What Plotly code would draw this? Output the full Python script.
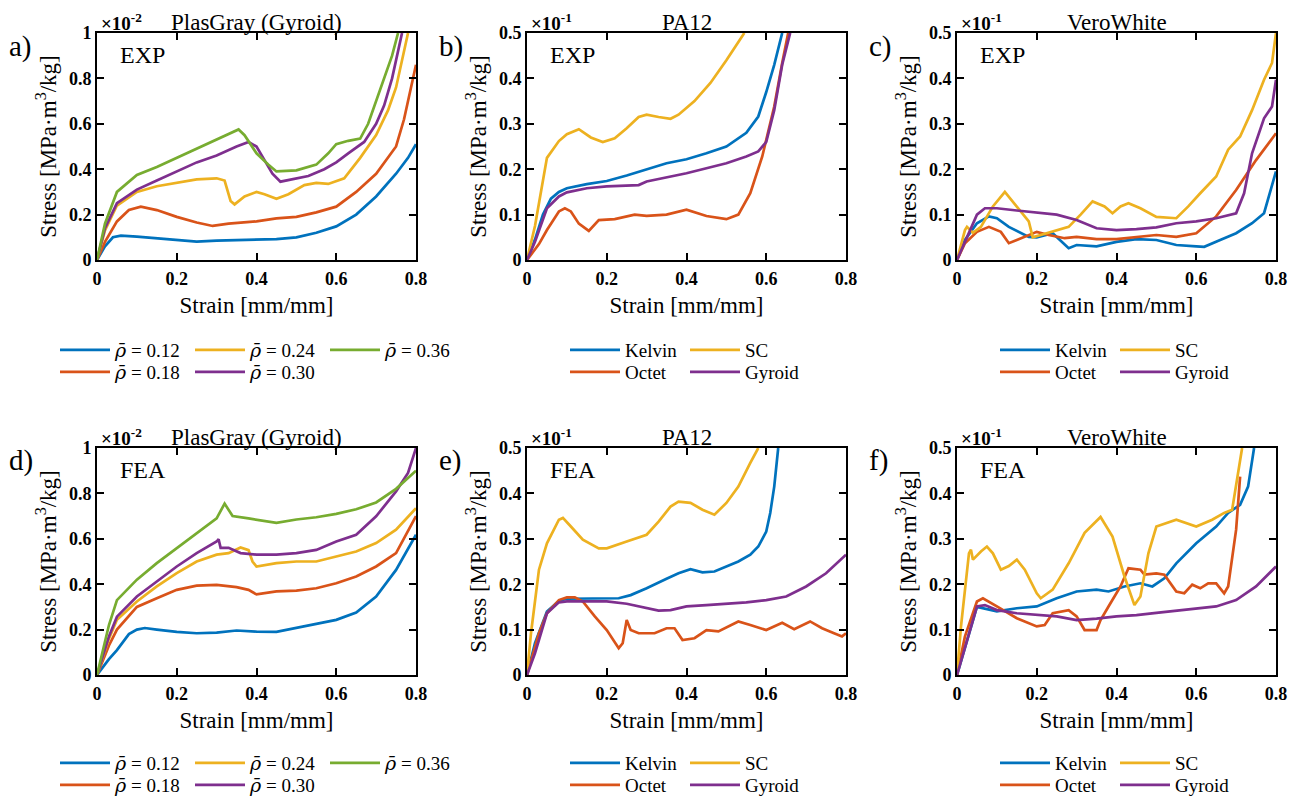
import plotly.graph_objects as go

# The page body adds an 8 px margin; the figure is placed at (8, 8).
OFF = 8
W, H = 1299 - OFF, 798 - OFF
SERIF = "Liberation Serif, Times New Roman, Times, Nimbus Roman, DejaVu Serif, serif"
BLUE, RED, YELLOW, PURPLE, GREEN = "#0072BD", "#D95319", "#EDB120", "#7E2F8E", "#77AC30"

# ---------------- Panel a: PlasGray (Gyroid) EXP  (x10^-2) ----------------
A_X_012 = [0, 0.02, 0.04, 0.06, 0.1, 0.15, 0.2, 0.25, 0.3, 0.35, 0.4, 0.45, 0.5, 0.55, 0.6, 0.65, 0.7, 0.75, 0.78, 0.8]
A_Y_012 = [0, 0.06, 0.1, 0.107, 0.103, 0.095, 0.086, 0.081, 0.085, 0.088, 0.09, 0.092, 0.1, 0.12, 0.148, 0.2, 0.28, 0.38, 0.45, 0.51]
A_X_018 = [0, 0.02, 0.05, 0.08, 0.11, 0.15, 0.2, 0.25, 0.29, 0.33, 0.4, 0.45, 0.5, 0.55, 0.6, 0.65, 0.7, 0.75, 0.77, 0.8]
A_Y_018 = [0, 0.08, 0.17, 0.22, 0.235, 0.22, 0.19, 0.165, 0.15, 0.16, 0.17, 0.183, 0.19, 0.21, 0.235, 0.3, 0.38, 0.5, 0.62, 0.86]
A_X_024 = [0, 0.02, 0.05, 0.1, 0.15, 0.2, 0.25, 0.3, 0.32, 0.335, 0.345, 0.37, 0.4, 0.42, 0.45, 0.48, 0.52, 0.55, 0.58, 0.62, 0.66, 0.7, 0.73, 0.75, 0.78]
A_Y_024 = [0, 0.13, 0.24, 0.3, 0.325, 0.34, 0.355, 0.36, 0.35, 0.26, 0.245, 0.28, 0.3, 0.29, 0.27, 0.29, 0.33, 0.34, 0.335, 0.36, 0.45, 0.55, 0.66, 0.76, 1.0]
A_X_030 = [0, 0.02, 0.05, 0.1, 0.15, 0.2, 0.25, 0.3, 0.35, 0.38, 0.4, 0.42, 0.44, 0.46, 0.5, 0.53, 0.57, 0.6, 0.63, 0.67, 0.7, 0.72, 0.74, 0.765]
A_Y_030 = [0, 0.14, 0.25, 0.31, 0.35, 0.39, 0.43, 0.46, 0.5, 0.52, 0.5, 0.44, 0.38, 0.345, 0.36, 0.37, 0.4, 0.43, 0.47, 0.52, 0.6, 0.68, 0.8, 1.0]
A_X_036 = [0, 0.02, 0.05, 0.1, 0.15, 0.2, 0.25, 0.3, 0.34, 0.355, 0.37, 0.4, 0.43, 0.45, 0.5, 0.55, 0.58, 0.6, 0.63, 0.66, 0.68, 0.71, 0.74, 0.755]
A_Y_036 = [0, 0.16, 0.3, 0.375, 0.41, 0.45, 0.49, 0.53, 0.565, 0.575, 0.55, 0.47, 0.42, 0.39, 0.395, 0.42, 0.47, 0.51, 0.525, 0.535, 0.6, 0.75, 0.9, 1.0]

# ---------------- Panel b: PA12 EXP  (x10^-1) ----------------
B_X_KELVIN = [0, 0.02, 0.04, 0.06, 0.08, 0.1, 0.15, 0.2, 0.25, 0.3, 0.35, 0.4, 0.45, 0.5, 0.55, 0.58, 0.6, 0.62, 0.64]
B_Y_KELVIN = [0, 0.045, 0.1, 0.135, 0.15, 0.158, 0.167, 0.174, 0.186, 0.199, 0.213, 0.222, 0.235, 0.25, 0.28, 0.316, 0.37, 0.43, 0.5]
B_X_OCTET = [0, 0.03, 0.05, 0.08, 0.095, 0.11, 0.13, 0.155, 0.18, 0.22, 0.27, 0.3, 0.35, 0.4, 0.45, 0.5, 0.53, 0.56, 0.59, 0.62, 0.64, 0.655]
B_Y_OCTET = [0, 0.035, 0.066, 0.107, 0.114, 0.107, 0.08, 0.064, 0.088, 0.09, 0.1, 0.097, 0.1, 0.111, 0.097, 0.09, 0.1, 0.147, 0.228, 0.338, 0.434, 0.5]
B_X_SC = [0, 0.02, 0.05, 0.08, 0.1, 0.13, 0.16, 0.19, 0.22, 0.25, 0.28, 0.3, 0.33, 0.36, 0.38, 0.42, 0.46, 0.5, 0.545]
B_Y_SC = [0, 0.075, 0.225, 0.262, 0.277, 0.288, 0.27, 0.26, 0.268, 0.29, 0.315, 0.32, 0.315, 0.311, 0.32, 0.35, 0.39, 0.44, 0.5]
B_X_GYROID = [0, 0.02, 0.05, 0.08, 0.1, 0.15, 0.2, 0.25, 0.28, 0.3, 0.35, 0.4, 0.45, 0.5, 0.55, 0.58, 0.6, 0.62, 0.64, 0.66]
B_Y_GYROID = [0, 0.04, 0.114, 0.14, 0.149, 0.158, 0.162, 0.164, 0.165, 0.173, 0.182, 0.191, 0.202, 0.213, 0.228, 0.239, 0.26, 0.33, 0.43, 0.5]

# ---------------- Panel c: VeroWhite EXP  (x10^-1) ----------------
C_X_KELVIN = [0, 0.02, 0.05, 0.08, 0.1, 0.13, 0.18, 0.2, 0.24, 0.28, 0.3, 0.35, 0.4, 0.45, 0.5, 0.55, 0.6, 0.62, 0.66, 0.7, 0.74, 0.77, 0.8]
C_Y_KELVIN = [0, 0.044, 0.081, 0.096, 0.092, 0.073, 0.051, 0.05, 0.059, 0.026, 0.033, 0.03, 0.04, 0.046, 0.044, 0.033, 0.03, 0.029, 0.044, 0.059, 0.081, 0.103, 0.195]
C_X_OCTET = [0, 0.02, 0.05, 0.08, 0.11, 0.13, 0.15, 0.2, 0.23, 0.27, 0.3, 0.35, 0.4, 0.45, 0.5, 0.55, 0.6, 0.65, 0.7, 0.75, 0.8]
C_Y_OCTET = [0, 0.037, 0.062, 0.073, 0.062, 0.037, 0.044, 0.062, 0.055, 0.048, 0.051, 0.046, 0.046, 0.05, 0.055, 0.051, 0.059, 0.096, 0.154, 0.22, 0.279]
C_X_SC = [0, 0.02, 0.025, 0.04, 0.06, 0.09, 0.12, 0.15, 0.18, 0.19, 0.21, 0.25, 0.28, 0.31, 0.34, 0.37, 0.39, 0.41, 0.43, 0.46, 0.5, 0.55, 0.58, 0.61, 0.65, 0.68, 0.71, 0.74, 0.77, 0.79, 0.8]
C_Y_SC = [0, 0.066, 0.073, 0.06, 0.073, 0.118, 0.15, 0.118, 0.085, 0.05, 0.055, 0.066, 0.073, 0.1, 0.129, 0.118, 0.103, 0.118, 0.125, 0.114, 0.095, 0.092, 0.118, 0.147, 0.184, 0.243, 0.272, 0.33, 0.397, 0.434, 0.5]
C_X_GYROID = [0, 0.03, 0.05, 0.07, 0.1, 0.15, 0.2, 0.25, 0.3, 0.35, 0.4, 0.45, 0.5, 0.55, 0.6, 0.65, 0.7, 0.72, 0.74, 0.77, 0.79, 0.8]
C_Y_GYROID = [0, 0.06, 0.1, 0.114, 0.114, 0.109, 0.104, 0.1, 0.088, 0.07, 0.066, 0.068, 0.072, 0.081, 0.085, 0.092, 0.103, 0.147, 0.235, 0.312, 0.338, 0.397]

# ---------------- Panel d: PlasGray (Gyroid) FEA  (x10^-2) ----------------
D_X_012 = [0, 0.03, 0.05, 0.08, 0.1, 0.12, 0.15, 0.2, 0.25, 0.3, 0.35, 0.4, 0.45, 0.5, 0.55, 0.6, 0.65, 0.7, 0.75, 0.8]
D_Y_012 = [0, 0.07, 0.11, 0.18, 0.2, 0.207, 0.2, 0.19, 0.184, 0.187, 0.196, 0.191, 0.19, 0.206, 0.225, 0.243, 0.275, 0.346, 0.463, 0.618]
D_X_018 = [0, 0.03, 0.05, 0.1, 0.15, 0.2, 0.25, 0.3, 0.35, 0.38, 0.4, 0.45, 0.5, 0.55, 0.6, 0.65, 0.7, 0.75, 0.8]
D_Y_018 = [0, 0.13, 0.2, 0.3, 0.338, 0.375, 0.394, 0.397, 0.387, 0.375, 0.355, 0.368, 0.372, 0.382, 0.404, 0.434, 0.478, 0.537, 0.7]
D_X_024 = [0, 0.03, 0.05, 0.1, 0.15, 0.2, 0.25, 0.3, 0.33, 0.36, 0.38, 0.39, 0.4, 0.45, 0.5, 0.55, 0.6, 0.65, 0.7, 0.75, 0.8]
D_Y_024 = [0, 0.16, 0.243, 0.324, 0.39, 0.449, 0.5, 0.53, 0.537, 0.562, 0.55, 0.5, 0.478, 0.493, 0.5, 0.5, 0.522, 0.544, 0.581, 0.64, 0.735]
D_X_030 = [0, 0.03, 0.05, 0.1, 0.15, 0.2, 0.25, 0.3, 0.305, 0.31, 0.33, 0.36, 0.4, 0.45, 0.5, 0.55, 0.6, 0.65, 0.7, 0.75, 0.78, 0.8]
D_Y_030 = [0, 0.17, 0.257, 0.346, 0.412, 0.478, 0.537, 0.588, 0.598, 0.56, 0.56, 0.537, 0.53, 0.53, 0.537, 0.551, 0.588, 0.618, 0.699, 0.809, 0.89, 1.0]
D_X_036 = [0, 0.03, 0.05, 0.1, 0.15, 0.2, 0.25, 0.3, 0.32, 0.34, 0.38, 0.4, 0.45, 0.5, 0.55, 0.6, 0.65, 0.7, 0.75, 0.8]
D_Y_036 = [0, 0.22, 0.33, 0.42, 0.493, 0.559, 0.625, 0.69, 0.755, 0.7, 0.69, 0.685, 0.67, 0.685, 0.695, 0.71, 0.73, 0.76, 0.82, 0.9]

# ---------------- Panel e: PA12 FEA  (x10^-1) ----------------
E_X_KELVIN = [0, 0.02, 0.05, 0.08, 0.1, 0.15, 0.2, 0.23, 0.26, 0.3, 0.35, 0.38, 0.41, 0.44, 0.47, 0.5, 0.53, 0.56, 0.58, 0.6, 0.61, 0.62, 0.625, 0.63]
E_Y_KELVIN = [0, 0.07, 0.14, 0.163, 0.168, 0.168, 0.168, 0.169, 0.176, 0.191, 0.212, 0.224, 0.233, 0.226, 0.228, 0.239, 0.25, 0.265, 0.283, 0.316, 0.357, 0.415, 0.452, 0.5]
E_X_OCTET = [0, 0.03, 0.05, 0.08, 0.1, 0.12, 0.14, 0.17, 0.2, 0.23, 0.24, 0.25, 0.26, 0.28, 0.32, 0.35, 0.37, 0.39, 0.42, 0.45, 0.48, 0.53, 0.56, 0.6, 0.64, 0.67, 0.71, 0.74, 0.77, 0.79, 0.8]
E_Y_OCTET = [0, 0.092, 0.136, 0.165, 0.171, 0.171, 0.162, 0.129, 0.099, 0.059, 0.07, 0.121, 0.099, 0.092, 0.092, 0.103, 0.103, 0.077, 0.081, 0.099, 0.096, 0.118, 0.11, 0.099, 0.115, 0.101, 0.118, 0.103, 0.092, 0.085, 0.092]
E_X_SC = [0, 0.01, 0.03, 0.05, 0.08, 0.09, 0.11, 0.14, 0.18, 0.2, 0.25, 0.3, 0.33, 0.36, 0.38, 0.41, 0.44, 0.47, 0.5, 0.53, 0.56, 0.58]
E_Y_SC = [0, 0.092, 0.232, 0.29, 0.342, 0.346, 0.327, 0.298, 0.279, 0.279, 0.294, 0.309, 0.338, 0.371, 0.382, 0.379, 0.364, 0.353, 0.379, 0.415, 0.467, 0.5]
E_X_GYROID = [0, 0.02, 0.05, 0.08, 0.1, 0.15, 0.2, 0.25, 0.3, 0.33, 0.36, 0.4, 0.45, 0.5, 0.55, 0.6, 0.65, 0.7, 0.75, 0.8]
E_Y_GYROID = [0, 0.048, 0.136, 0.16, 0.162, 0.162, 0.162, 0.157, 0.147, 0.142, 0.143, 0.151, 0.154, 0.157, 0.16, 0.165, 0.173, 0.195, 0.224, 0.265]

# ---------------- Panel f: VeroWhite FEA  (x10^-1) ----------------
F_X_KELVIN = [0, 0.02, 0.05, 0.1, 0.15, 0.2, 0.25, 0.3, 0.35, 0.38, 0.42, 0.46, 0.49, 0.52, 0.55, 0.6, 0.65, 0.68, 0.71, 0.73, 0.74, 0.745]
F_Y_KELVIN = [0, 0.06, 0.15, 0.14, 0.147, 0.151, 0.169, 0.184, 0.188, 0.184, 0.195, 0.202, 0.195, 0.213, 0.246, 0.29, 0.327, 0.357, 0.375, 0.415, 0.467, 0.5]
F_X_OCTET = [0, 0.02, 0.05, 0.065, 0.1, 0.15, 0.2, 0.22, 0.24, 0.28, 0.3, 0.32, 0.35, 0.36, 0.38, 0.41, 0.43, 0.46, 0.47, 0.5, 0.52, 0.55, 0.57, 0.59, 0.61, 0.63, 0.65, 0.67, 0.68, 0.7, 0.71]
F_Y_OCTET = [0, 0.085, 0.162, 0.169, 0.151, 0.125, 0.107, 0.11, 0.136, 0.143, 0.129, 0.099, 0.099, 0.121, 0.151, 0.195, 0.235, 0.232, 0.221, 0.224, 0.221, 0.184, 0.18, 0.199, 0.191, 0.202, 0.202, 0.18, 0.195, 0.32, 0.437]
F_X_SC = [0, 0.01, 0.03, 0.035, 0.04, 0.06, 0.075, 0.09, 0.11, 0.13, 0.15, 0.17, 0.2, 0.21, 0.24, 0.28, 0.32, 0.36, 0.39, 0.42, 0.445, 0.46, 0.48, 0.5, 0.55, 0.6, 0.64, 0.67, 0.69, 0.7, 0.715]
F_Y_SC = [0, 0.107, 0.268, 0.276, 0.254, 0.272, 0.283, 0.268, 0.232, 0.24, 0.254, 0.232, 0.18, 0.169, 0.188, 0.246, 0.313, 0.348, 0.305, 0.217, 0.154, 0.173, 0.268, 0.327, 0.342, 0.327, 0.342, 0.357, 0.364, 0.415, 0.5]
F_X_GYROID = [0, 0.03, 0.05, 0.07, 0.1, 0.15, 0.2, 0.25, 0.3, 0.35, 0.4, 0.45, 0.5, 0.55, 0.6, 0.65, 0.7, 0.75, 0.8]
F_Y_GYROID = [0, 0.092, 0.151, 0.154, 0.143, 0.136, 0.132, 0.129, 0.121, 0.124, 0.129, 0.132, 0.137, 0.142, 0.147, 0.151, 0.165, 0.195, 0.239]

# Tick labels
X_TICKS = [0, 0.2, 0.4, 0.6, 0.8]
X_TICKTEXT = ["0", "0.2", "0.4", "0.6", "0.8"]
Y_TICKS_1 = [0, 0.2, 0.4, 0.6, 0.8, 1.0]
Y_TICKTEXT_1 = ["0", "0.2", "0.4", "0.6", "0.8", "1"]
Y_TICKS_05 = [0, 0.1, 0.2, 0.3, 0.4, 0.5]
Y_TICKTEXT_05 = ["0", "0.1", "0.2", "0.3", "0.4", "0.5"]

RHO = "<span style='font-family:DejaVu Serif'><i>ρ̄</i></span> = "

fig = go.Figure()


def add(name, x, y, color, axis_id, legend):
    fig.add_trace(go.Scatter(
        x=x, y=y, mode="lines", name=name,
        line=dict(color=color, width=2.7),
        xaxis="x" if axis_id == 1 else f"x{axis_id}",
        yaxis="y" if axis_id == 1 else f"y{axis_id}",
        legend="legend" if legend == 1 else f"legend{legend}",
    ))


# Panel a (axis 1), legends 1 & 2
add(RHO + "0.12", A_X_012, A_Y_012, BLUE, 1, 1)
add(RHO + "0.18", A_X_018, A_Y_018, RED, 1, 2)
add(RHO + "0.24", A_X_024, A_Y_024, YELLOW, 1, 1)
add(RHO + "0.30", A_X_030, A_Y_030, PURPLE, 1, 2)
add(RHO + "0.36", A_X_036, A_Y_036, GREEN, 1, 1)
# Panel b
add("Kelvin", B_X_KELVIN, B_Y_KELVIN, BLUE, 2, 3)
add("Octet", B_X_OCTET, B_Y_OCTET, RED, 2, 4)
add("SC", B_X_SC, B_Y_SC, YELLOW, 2, 3)
add("Gyroid", B_X_GYROID, B_Y_GYROID, PURPLE, 2, 4)
# Panel c
add("Kelvin", C_X_KELVIN, C_Y_KELVIN, BLUE, 3, 5)
add("Octet", C_X_OCTET, C_Y_OCTET, RED, 3, 6)
add("SC", C_X_SC, C_Y_SC, YELLOW, 3, 5)
add("Gyroid", C_X_GYROID, C_Y_GYROID, PURPLE, 3, 6)
# Panel d
add(RHO + "0.12", D_X_012, D_Y_012, BLUE, 4, 7)
add(RHO + "0.18", D_X_018, D_Y_018, RED, 4, 8)
add(RHO + "0.24", D_X_024, D_Y_024, YELLOW, 4, 7)
add(RHO + "0.30", D_X_030, D_Y_030, PURPLE, 4, 8)
add(RHO + "0.36", D_X_036, D_Y_036, GREEN, 4, 7)
# Panel e
add("Kelvin", E_X_KELVIN, E_Y_KELVIN, BLUE, 5, 9)
add("Octet", E_X_OCTET, E_Y_OCTET, RED, 5, 10)
add("SC", E_X_SC, E_Y_SC, YELLOW, 5, 9)
add("Gyroid", E_X_GYROID, E_Y_GYROID, PURPLE, 5, 10)
# Panel f
add("Kelvin", F_X_KELVIN, F_Y_KELVIN, BLUE, 6, 11)
add("Octet", F_X_OCTET, F_Y_OCTET, RED, 6, 12)
add("SC", F_X_SC, F_Y_SC, YELLOW, 6, 11)
add("Gyroid", F_X_GYROID, F_Y_GYROID, PURPLE, 6, 12)

# Reference pixel positions (screenshot coordinates)
COL_LEFT = [97, 527, 957]
PW, PH = 319, 227
ROW_TOP = [33, 448]


def fx(px):
    return (px - OFF) / W


def fy(py):
    return 1 - (py - OFF) / H


layout = dict(
    width=W, height=H, margin=dict(l=0, r=0, t=0, b=0, autoexpand=False),
    paper_bgcolor="white", plot_bgcolor="white",
    font=dict(family=SERIF, color="black"),
    showlegend=True,
)

panels = [
    (1, 0, 0, 1.0, "a)", "PlasGray (Gyroid)", "-2", "EXP"),
    (2, 0, 1, 0.5, "b)", "PA12", "-1", "EXP"),
    (3, 0, 2, 0.5, "c)", "VeroWhite", "-1", "EXP"),
    (4, 1, 0, 1.0, "d)", "PlasGray (Gyroid)", "-2", "FEA"),
    (5, 1, 1, 0.5, "e)", "PA12", "-1", "FEA"),
    (6, 1, 2, 0.5, "f)", "VeroWhite", "-1", "FEA"),
]

annotations = []
for aid, r, c, ymax, lab, mat, expo, kind in panels:
    L = COL_LEFT[c]
    T = ROW_TOP[r]
    xn = "xaxis" if aid == 1 else f"xaxis{aid}"
    yn = "yaxis" if aid == 1 else f"yaxis{aid}"
    xr = "x" if aid == 1 else f"x{aid}"
    yr = "y" if aid == 1 else f"y{aid}"
    common = dict(
        showline=True, linecolor="black", linewidth=1.8, mirror="ticks",
        ticks="inside", ticklen=7, tickwidth=1.8, tickcolor="black",
        showgrid=False, zeroline=False, automargin=False,
        tickfont=dict(family=SERIF, size=18, color="black", weight="bold"),
    )
    layout[xn] = dict(
        common, domain=[fx(L), fx(L + PW)], anchor=yr, range=[0, 0.8],
        tickvals=X_TICKS, ticktext=X_TICKTEXT, ticklabelstandoff=1,
        title=dict(text="Strain [mm/mm]", font=dict(family=SERIF, size=23, color="black"), standoff=9),
    )
    if ymax == 1.0:
        tv, tt = Y_TICKS_1, Y_TICKTEXT_1
    else:
        tv, tt = Y_TICKS_05, Y_TICKTEXT_05
    layout[yn] = dict(
        common, domain=[fy(T + PH), fy(T)], anchor=xr, range=[0, ymax],
        tickvals=tv, ticktext=tt,
        title=dict(text="Stress [MPa·m<sup>3</sup>/kg]", font=dict(family=SERIF, size=23, color="black"), standoff=6),
    )
    ttop = fy(T - 25)
    annotations.append(dict(text=mat, xref=f"{xr} domain", yref="paper", x=0.5, y=ttop,
                            xanchor="center", yanchor="top", showarrow=False,
                            font=dict(family=SERIF, size=23, color="black")))
    annotations.append(dict(text="×10<sup>" + expo + "</sup>", xref=f"{xr} domain", yref="paper",
                            x=0.005, y=ttop, xanchor="left", yanchor="top", showarrow=False,
                            font=dict(family=SERIF, size=19, color="black", weight="bold")))
    annotations.append(dict(text=kind, xref=f"{xr} domain", yref=f"{yr} domain", x=21 / PW, y=1 - 22 / PH,
                            xanchor="left", yanchor="middle", showarrow=False,
                            font=dict(family=SERIF, size=24, color="black")))
    annotations.append(dict(text=lab, xref="paper", yref="paper", x=fx(L - 90), y=fy(T + 13),
                            xanchor="left", yanchor="middle", showarrow=False,
                            font=dict(family=SERIF, size=29, color="black")))

layout["annotations"] = annotations

# Legends: two rows per panel
LEG_X = [60, 570, 1000]
LEG_ENTRY = [70, 55, 55]
LEG_ROWS = [(350, 372), (763, 785)]
n = 1
for r in range(2):
    for c in range(3):
        for k in range(2):
            key = "legend" if n == 1 else f"legend{n}"
            layout[key] = dict(
                orientation="h", x=fx(LEG_X[c] - 5), y=fy(LEG_ROWS[r][k]),
                xanchor="left", yanchor="middle",
                entrywidth=LEG_ENTRY[c], entrywidthmode="pixels",
                font=dict(family=SERIF, size=19, color="black"),
                bgcolor="rgba(0,0,0,0)", borderwidth=0, itemwidth=50,
            )
            n += 1

fig.update_layout(**layout)
fig.write_html("out.html")
